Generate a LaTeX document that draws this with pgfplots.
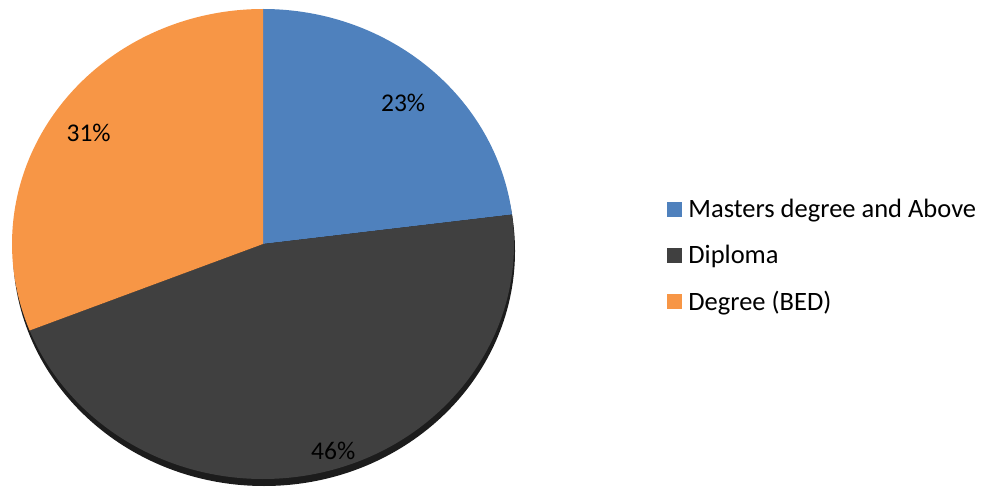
\documentclass[border=0pt]{standalone}
\usepackage{pgfplots}
\pgfplotsset{compat=1.18}
\usepackage{pgfplotstable}
\usetikzlibrary{calc}
\usepackage{fontspec}
\setmainfont{Carlito}

\definecolor{pieblue}{HTML}{4F81BD}
\definecolor{piedark}{HTML}{404040}
\definecolor{pieorange}{HTML}{F79646}
\definecolor{pieshadow}{HTML}{1C1C1C}

% share (%) by qualification; label position as fraction of radius and angle nudge
\pgfplotstableread{
label   share  lpos  loff
Masters 23     0.82  -1.5
Diploma 46     0.925  3.2
Degree  31     0.84   0
}\piedata

\pgfplotstablegetelem{0}{share}\of\piedata \let\sA\pgfplotsretval
\pgfplotstablegetelem{1}{share}\of\piedata \let\sB\pgfplotsretval
\pgfplotstablegetelem{2}{share}\of\piedata \let\sC\pgfplotsretval
\pgfplotstablegetelem{0}{lpos}\of\piedata \let\lA\pgfplotsretval
\pgfplotstablegetelem{1}{lpos}\of\piedata \let\lB\pgfplotsretval
\pgfplotstablegetelem{2}{lpos}\of\piedata \let\lC\pgfplotsretval
\pgfplotstablegetelem{0}{loff}\of\piedata \let\oA\pgfplotsretval
\pgfplotstablegetelem{1}{loff}\of\piedata \let\oB\pgfplotsretval
\pgfplotstablegetelem{2}{loff}\of\piedata \let\oC\pgfplotsretval

% slices run clockwise from 12 o'clock
\pgfmathsetmacro\aA{90}
\pgfmathsetmacro\aB{\aA-3.6*\sA}
\pgfmathsetmacro\aC{\aB-3.6*\sB}
\pgfmathsetmacro\aD{\aC-3.6*\sC}
\pgfmathsetmacro\mA{(\aA+\aB)/2+\oA}
\pgfmathsetmacro\mB{(\aB+\aC)/2+\oB}
\pgfmathsetmacro\mC{(\aC+\aD)/2+\oC}

\def\rx{251pt}
\def\ry{235pt}

\begin{document}
\begin{tikzpicture}
\useasboundingbox (0,0) rectangle (982pt,501pt);
\begin{axis}[
    scale only axis,
    width=982pt, height=501pt,
    xmin=0, xmax=982, ymin=0, ymax=501,
    hide axis, clip=false,
    font=\fontsize{25.5}{30}\selectfont,
    legend style={at={(axis cs:664,306)}, anchor=north west,
      draw=none, fill=none, row sep=22pt,
      font=\fontsize{26.5}{31}\selectfont},
    legend cell align=left,
  ]
  % depth under the pie
  \fill[pieshadow] (axis cs:264,250) ellipse [x radius=\rx, y radius=\ry];

  \fill[pieblue] (axis cs:263,257) -- ++(\aA:{\rx} and {\ry})
    arc[start angle=\aA, end angle=\aB, x radius=\rx, y radius=\ry] -- cycle;
  \fill[piedark] (axis cs:263,257) -- ++(\aB:{\rx} and {\ry})
    arc[start angle=\aB, end angle=\aC, x radius=\rx, y radius=\ry] -- cycle;
  \fill[pieorange] (axis cs:263,257) -- ++(\aC:{\rx} and {\ry})
    arc[start angle=\aC, end angle=\aD, x radius=\rx, y radius=\ry] -- cycle;

  \node at ($(axis cs:263,257)+(\mA:{\lA*\rx} and {\lA*\ry})$) {\sA\%};
  \node at ($(axis cs:263,257)+(\mB:{\lB*\rx} and {\lB*\ry})$) {\sB\%};
  \node at ($(axis cs:263,257)+(\mC:{\lC*\rx} and {\lC*\ry})$) {\sC\%};

  \addlegendimage{legend image code/.code={\path[draw=none,fill=none] (0pt,0pt) rectangle (19pt,0pt); \fill[pieblue] (0pt,-7pt) rectangle (14pt,7pt);}}
  \addlegendentry{Masters degree and Above}
  \addlegendimage{legend image code/.code={\path[draw=none,fill=none] (0pt,0pt) rectangle (19pt,0pt); \fill[piedark] (0pt,-7pt) rectangle (14pt,7pt);}}
  \addlegendentry{Diploma}
  \addlegendimage{legend image code/.code={\path[draw=none,fill=none] (0pt,0pt) rectangle (19pt,0pt); \fill[pieorange] (0pt,-7pt) rectangle (14pt,7pt);}}
  \addlegendentry{Degree (BED)}
\end{axis}
\end{tikzpicture}
\end{document}
